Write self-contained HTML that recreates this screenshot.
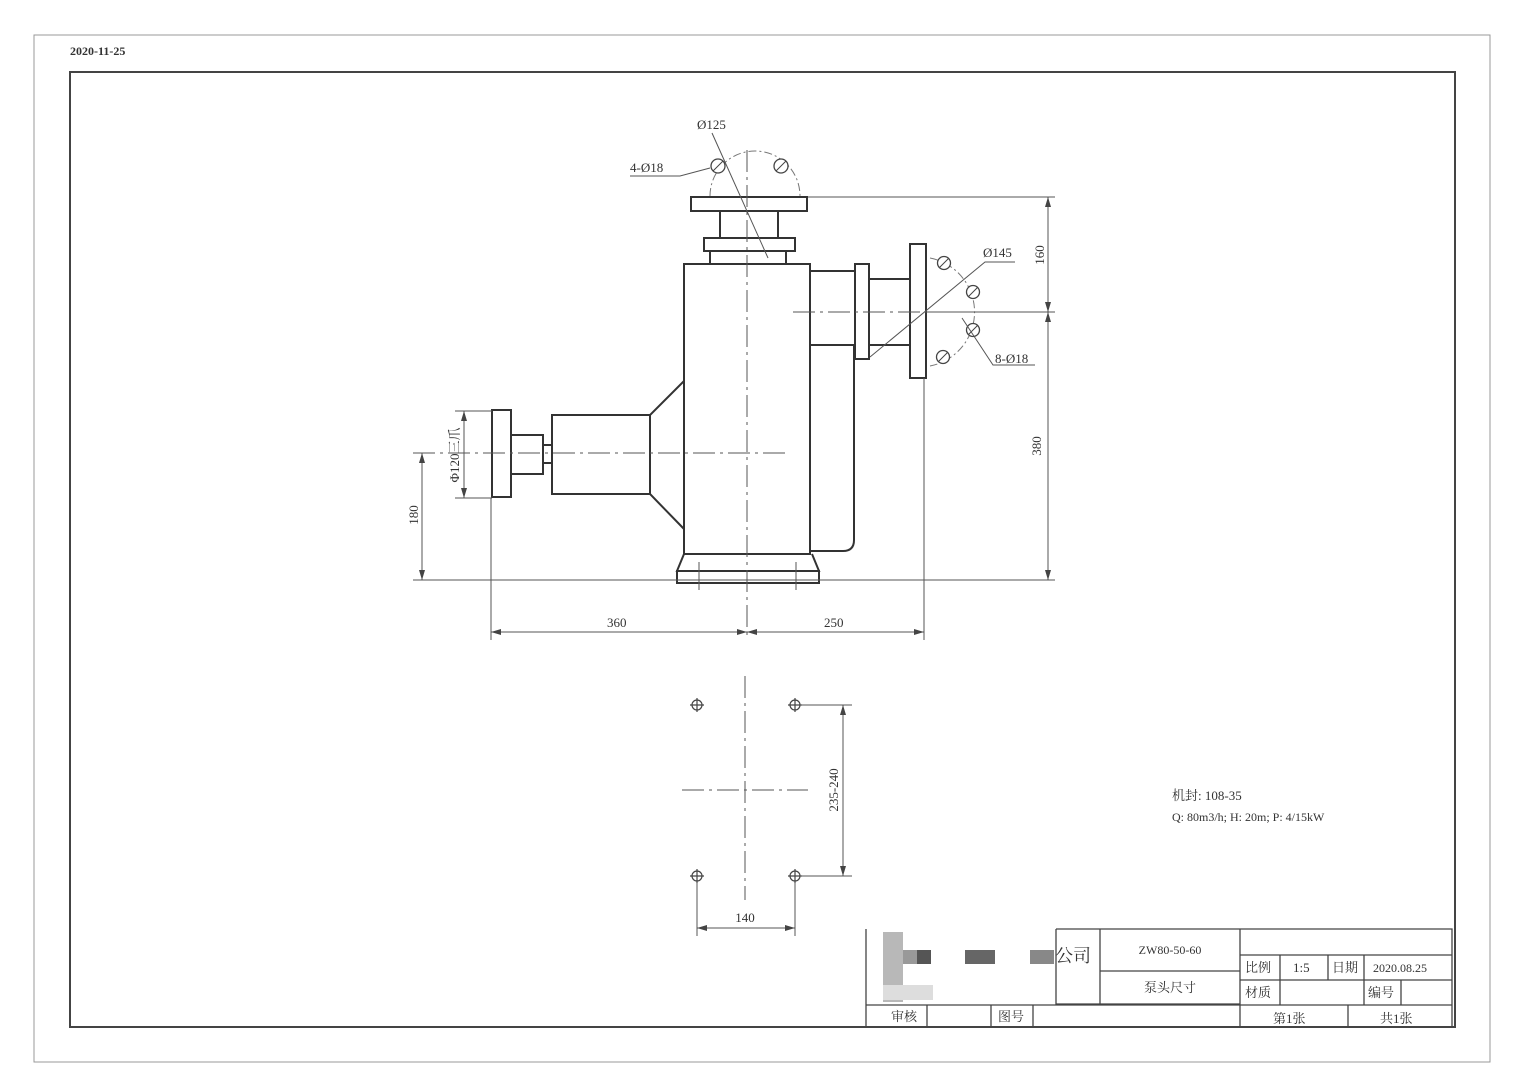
<!DOCTYPE html>
<html><head><meta charset="utf-8"><style>
html,body{margin:0;padding:0;background:#fff;}
svg{display:block;font-family:"Liberation Serif","Noto Serif CJK SC",serif;}
text{fill:#333;}
</style></head><body>
<svg width="1527" height="1080" viewBox="0 0 1527 1080" xmlns="http://www.w3.org/2000/svg">
<rect x="0" y="0" width="1527" height="1080" fill="#fff"/>
<rect x="34" y="35" width="1456" height="1027" fill="none" stroke="#999" stroke-width="1"/>
<rect x="70" y="72" width="1385" height="955" fill="none" stroke="#444" stroke-width="2"/>
<text x="70" y="55" font-size="12" font-weight="bold" font-family="Liberation Serif">2020-11-25</text>

<g fill="none" stroke="#333" stroke-width="2">
<rect x="691" y="197" width="116" height="14"/>
<rect x="720" y="211" width="58" height="27"/>
<rect x="704" y="238" width="91" height="13"/>
<rect x="710" y="251" width="76" height="13"/>
<rect x="684" y="264" width="126" height="290"/>
<path d="M684 554 L677 571 L819 571 L812 554"/>
<rect x="677" y="571" width="142" height="12"/>
<path d="M810 271 L855 271 M810 345 L854 345 L854 540 Q854 551 843 551 L810 551"/>
<rect x="855" y="264" width="14" height="95"/>
<path d="M869 279 L910 279 M869 345 L910 345"/>
<rect x="910" y="244" width="16" height="134"/>
<path d="M684 381 L650 415 L650 494 L684 529"/>
<rect x="552" y="415" width="98" height="79"/>
<rect x="543" y="445" width="9" height="18"/>
<rect x="511" y="435" width="32" height="39"/>
<rect x="492" y="410" width="19" height="87"/>
</g>
<g fill="none" stroke="#777" stroke-width="1">
<path d="M710 196 A45 45 0 0 1 800 196" stroke-dasharray="8 3 2 3"/>
<path d="M930 258 A55 55 0 0 1 930 366" stroke-dasharray="8 3 2 3"/>
</g>
<g fill="#fff" stroke="#444" stroke-width="1.3">
<circle cx="718" cy="166" r="7"/><circle cx="781" cy="166" r="7"/>
<circle cx="944" cy="263" r="6.5"/><circle cx="973" cy="292" r="6.5"/>
<circle cx="973" cy="330" r="6.5"/><circle cx="943" cy="357" r="6.5"/>
</g>
<g stroke="#444" stroke-width="1" fill="none">
<path d="M713 171 L723 161 M776 171 L786 161 M939 268 L949 258 M968 297 L978 287 M968 335 L978 325 M938 362 L948 352"/>
</g>
<g stroke="#555" stroke-width="1" fill="none">
<path d="M747 150 L747 640" stroke-dasharray="22 5 3 5"/>
<path d="M793 312 L940 312" stroke-dasharray="22 5 3 5"/>
<path d="M413 453 L786 453" stroke-dasharray="22 5 3 5"/>
<path d="M699 562 L699 590 M796 562 L796 590"/>
<path d="M712 133 L768 258"/>
<path d="M630 176 L680 176 L710 168"/>
<path d="M870 357 L985 262 L1015 262"/>
<path d="M962 318 L993 365 L1035 365"/>
<path d="M413 580 L1055 580"/>
<path d="M808 197 L1055 197 M926 312 L1055 312"/>
<path d="M1048 197 L1048 580"/>
<path d="M455 411 L492 411 M455 498 L492 498 M464 411 L464 498"/>
<path d="M422 453 L422 580"/>
<path d="M491 498 L491 640 M924 378 L924 640 M491 632 L924 632"/>
</g>
<g fill="#444">
<path d="M1048 197 l-3 10 l6 0z M1048 312 l-3 -10 l6 0z M1048 312 l-3 10 l6 0z M1048 580 l-3 -10 l6 0z"/>
<path d="M464 411 l-3 10 l6 0z M464 498 l-3 -10 l6 0z M422 453 l-3 10 l6 0z M422 580 l-3 -10 l6 0z"/>
<path d="M491 632 l10 -3 l0 6z M747 632 l-10 -3 l0 6z M747 632 l10 -3 l0 6z M924 632 l-10 -3 l0 6z"/>
</g>
<g font-family="Liberation Serif" font-size="13">
<text x="697" y="129">Ø125</text>
<text x="630" y="172">4-Ø18</text>
<text x="983" y="257">Ø145</text>
<text x="995" y="363">8-Ø18</text>
<text x="607" y="627">360</text>
<text x="824" y="627">250</text>
<text transform="translate(1044,255) rotate(-90)" text-anchor="middle">160</text>
<text transform="translate(1041,446) rotate(-90)" text-anchor="middle">380</text>
<text transform="translate(418,515) rotate(-90)" text-anchor="middle">180</text>
<text transform="translate(459,455) rotate(-90)" text-anchor="middle" font-family="Liberation Serif,Noto Serif CJK SC,serif">Φ120三爪</text>
</g>

<g stroke="#444" fill="none" stroke-width="1.2">
<circle cx="697" cy="705" r="5"/><circle cx="795" cy="705" r="5"/>
<circle cx="697" cy="876" r="5"/><circle cx="795" cy="876" r="5"/>
<path d="M690 705 L704 705 M697 698 L697 712 M788 705 L802 705 M795 698 L795 712 M690 876 L704 876 M697 869 L697 883 M788 876 L802 876 M795 869 L795 883"/>
</g>
<g stroke="#555" stroke-width="1" fill="none">
<path d="M682 790 L808 790" stroke-dasharray="22 5 3 5"/>
<path d="M745 676 L745 900" stroke-dasharray="22 5 3 5"/>
<path d="M800 705 L852 705 M800 876 L852 876 M843 705 L843 876"/>
<path d="M697 883 L697 936 M795 883 L795 936 M697 928 L795 928"/>
</g>
<g fill="#444"><path d="M843 705 l-3 10 l6 0z M843 876 l-3 -10 l6 0z M697 928 l10 -3 l0 6z M795 928 l-10 -3 l0 6z"/></g>
<g font-family="Liberation Serif" font-size="13">
<text transform="translate(838,790) rotate(-90)" text-anchor="middle">235-240</text>
<text x="745" y="922" text-anchor="middle">140</text>
</g>

<text x="1172" y="800" font-size="13" font-family="Liberation Serif,Noto Serif CJK SC,serif">机封: 108-35</text>
<text x="1172" y="821" font-size="12" font-family="Liberation Serif">Q: 80m3/h;  H: 20m;  P: 4/15kW</text>

<g stroke="#444" stroke-width="1.3" fill="none">
<path d="M1056 929 L1452 929 L1452 1028 M866 929 L866 1028"/>
<path d="M866 1005 L1452 1005"/>
<path d="M1056 929 L1056 1005 M1100 929 L1100 1005 M1240 929 L1240 1028"/>
<path d="M1100 971 L1240 971 M1056 1004 L1240 1004"/>
<path d="M1240 955 L1452 955 M1240 980 L1452 980"/>
<path d="M1280 955 L1280 1005 M1328 955 L1328 980 M1364 955 L1364 1005 M1401 980 L1401 1005 M1348 1005 L1348 1028"/>
<path d="M927 1005 L927 1028 M991 1005 L991 1028 M1033 1005 L1033 1028"/>
</g>
<g>
<rect x="883" y="932" width="20" height="70" fill="#b8b8b8"/>
<rect x="903" y="950" width="28" height="14" fill="#999"/>
<rect x="917" y="950" width="14" height="14" fill="#555"/>
<rect x="965" y="950" width="30" height="14" fill="#666"/>
<rect x="1030" y="950" width="24" height="14" fill="#888"/>
<rect x="883" y="985" width="50" height="15" fill="#ddd"/>
</g>
<g font-family="Liberation Serif,Noto Serif CJK SC,serif" font-size="13">
<text x="1055" y="962" font-size="18">公司</text>
<text x="1170" y="954" text-anchor="middle" font-size="12">ZW80-50-60</text>
<text x="1170" y="992" text-anchor="middle">泵头尺寸</text>
<text x="1245" y="972">比例</text>
<text x="1293" y="972">1:5</text>
<text x="1332" y="972">日期</text>
<text x="1373" y="972" font-size="12">2020.08.25</text>
<text x="1245" y="997">材质</text>
<text x="1368" y="997">编号</text>
<text x="1273" y="1023">第1张</text>
<text x="1380" y="1023">共1张</text>
<text x="891" y="1021">审核</text>
<text x="998" y="1021">图号</text>
</g>
</svg>
</body></html>
